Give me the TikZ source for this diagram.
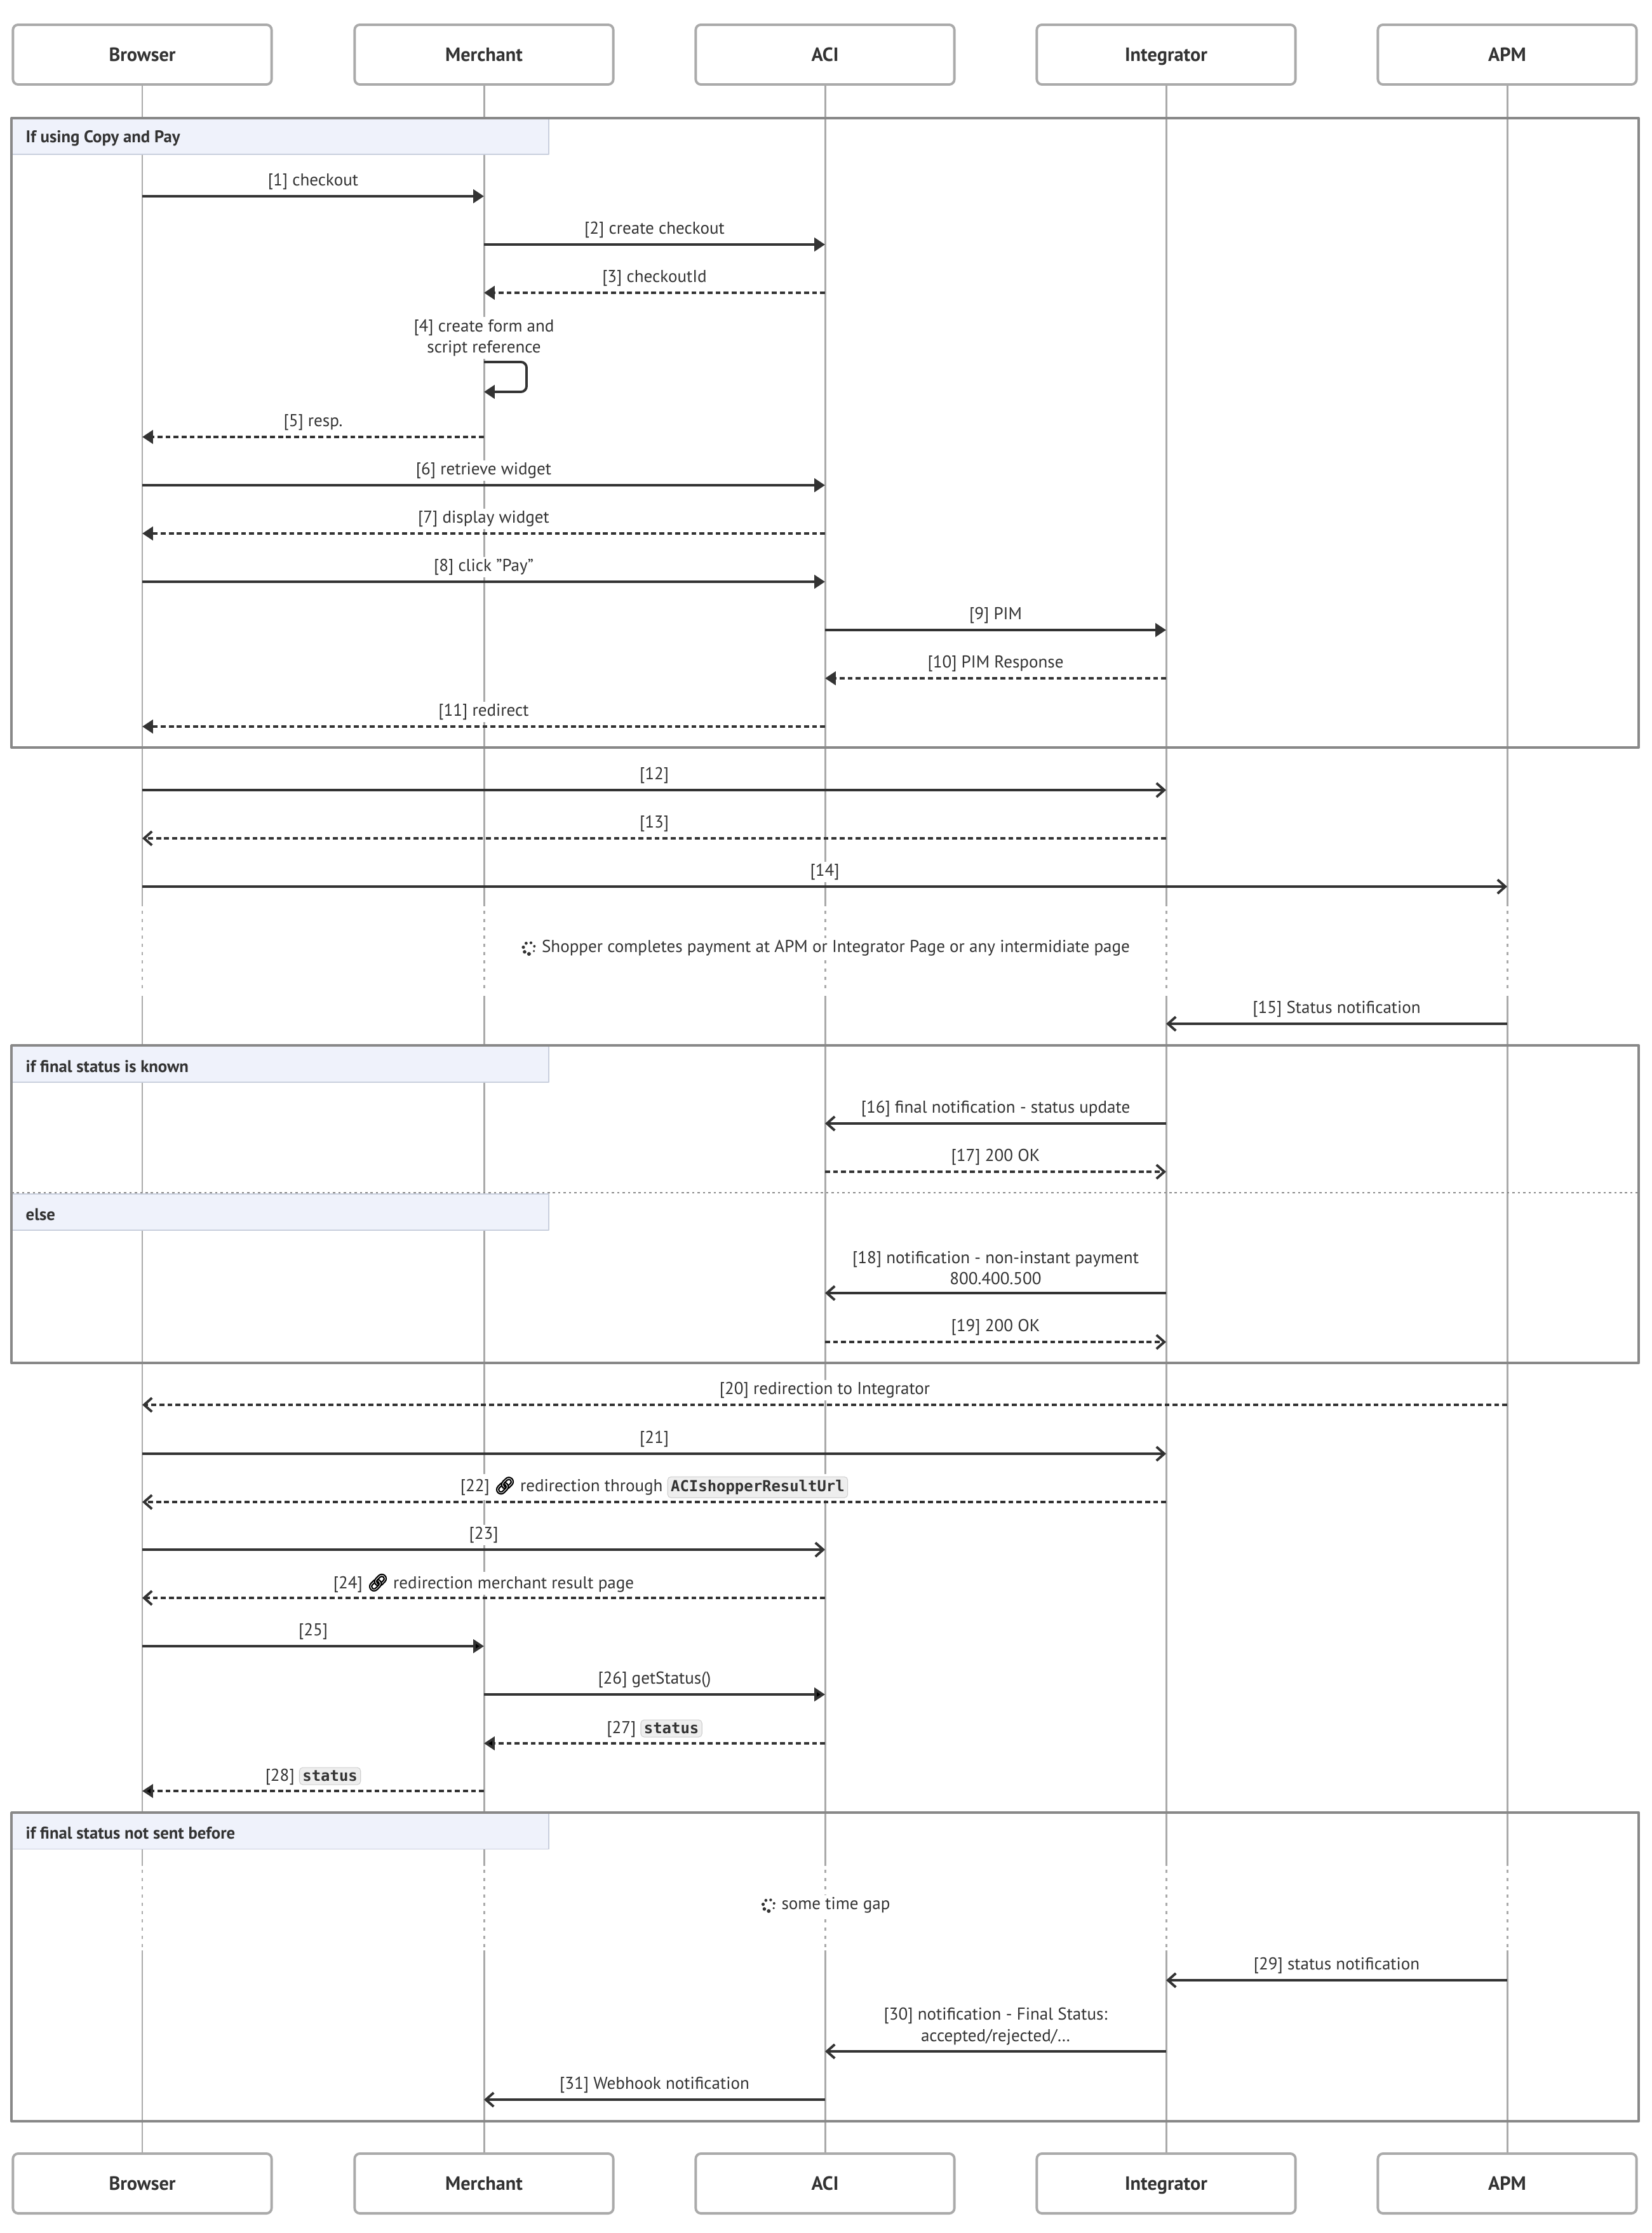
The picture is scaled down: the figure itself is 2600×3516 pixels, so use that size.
\documentclass[tikz,border=0pt]{standalone}
\usepackage{fontspec}
\setmainfont{PT Sans}
\setmonofont{DejaVu Sans Mono}
\newfontfamily\emojifont[FakeBold=4]{Noto Emoji}
\usetikzlibrary{arrows.meta, calc}

\definecolor{ink}{HTML}{333333}
\definecolor{lifegray}{HTML}{AAAAAA}
\definecolor{framegray}{HTML}{888888}
\definecolor{tagfill}{HTML}{EFF2FB}
\definecolor{tagline}{HTML}{C9CFDD}
\definecolor{codefill}{HTML}{EEEEEE}
\definecolor{codeline}{HTML}{D0D0D0}

\newcommand{\codebox}[1]{\tikz[baseline=(cb.base)] \node [fill=codefill, draw=codeline, line width=0.3pt, rounded corners=1.5pt, inner sep=1.4pt, yshift=0pt] (cb) {\ttfamily\bfseries\fontsize{6.8}{8}\selectfont #1};}
\newcommand{\linkicon}{{\color{black}\emojifont\fontsize{7.6}{8}\selectfont 🔗}}

\begin{document}
\begin{tikzpicture}[x=0.01cm, y=-0.01cm, line join=round, text=ink,
    font=\fontsize{7.7}{9.6}\selectfont,
    actor/.style={draw=lifegray, line width=1.1pt, fill=white, rounded corners=2.3pt,
        minimum width=4.07cm, minimum height=0.94cm, text height=6.8pt, text depth=1pt,
        font=\fontsize{8.6}{10}\selectfont\bfseries},
    life/.style={lifegray, line width=0.85pt},
    lifegap/.style={life, dash pattern=on 1.5pt off 2.2pt},
    frame/.style={draw=framegray, line width=1.1pt},
    tag/.style={fill=tagfill, draw=tagline, line width=0.3pt},
    tagtext/.style={anchor=west, inner sep=0pt, font=\fontsize{7.6}{9}\selectfont\bfseries},
    sync/.style={draw=ink, line width=1.1pt, -{Triangle[length=4.8pt, width=6pt]}},
    syncback/.style={sync, dash pattern=on 2.2pt off 1.4pt},
    async/.style={draw=ink, line width=1.1pt, -{Straight Barb[length=3.5pt, width=6.2pt]}},
    asyncback/.style={async, dash pattern=on 2.2pt off 1.4pt},
    lbl/.style={fill=white, inner sep=1pt, yshift=6.6pt, align=center},
    lbltwo/.style={lbl, yshift=4.6pt},
    note/.style={fill=white, inner sep=1pt}]
    \useasboundingbox (0,0) rectangle (2600,3516);
    \foreach \a/\t/\x in {browser/Browser/224, merchant/Merchant/762, aci/ACI/1299, integrator/Integrator/1836, apm/APM/2373} {
        \node [actor] (\a) at (\x,86) {\t};
        \node [actor] (\a-end) at (\x,3438) {\t};
        \draw [life] (\a.south) -- (\a |- 0,1427);
        \draw [lifegap] (\a |- 0,1434) -- (\a |- 0,1562);
        \draw [life] (\a |- 0,1568) -- (\a |- 0,2938);
        \draw [lifegap] (\a |- 0,2944) -- (\a |- 0,3066);
        \draw [life] (\a |- 0,3071) -- (\a-end.north);
    }
    \draw [tag] (18,186) rectangle (864,243);
    \node [tagtext] at (40,218) {If using Copy and Pay};
    \draw [frame] (18,186) rectangle (2580,1177);
    \draw [tag] (18,1646) rectangle (864,1704);
    \node [tagtext] at (40,1679) {if final status is known};
    \draw [tag] (18,1880) rectangle (864,1937);
    \node [tagtext] at (40,1912) {else};
    \draw [framegray, line width=0.8pt, dash pattern=on 1pt off 1.4pt] (18,1878) -- (2580,1878);
    \draw [frame] (18,1646) rectangle (2580,2146);
    \draw [tag] (18,2854) rectangle (864,2911);
    \node [tagtext] at (40,2886) {if final status not sent before};
    \draw [frame] (18,2854) rectangle (2580,3340);

    \draw [sync] (browser |- 0,309) -- node [lbl] {[1] checkout} (merchant |- 0,309);
    \draw [sync] (merchant |- 0,385) -- node [lbl] {[2] create checkout} (aci |- 0,385);
    \draw [syncback] (aci |- 0,461) -- node [lbl] {[3] checkoutId} (merchant |- 0,461);
    \node [fill=white, inner sep=1pt, align=center] (selfnote) at (762,532) {[4] create form and\\script reference};
    \draw [sync, rounded corners=2.5pt] (merchant |- 0,570) -- ++(67,0) -- ++(0,47) -- (merchant |- 0,617);
    \draw [syncback] (merchant |- 0,688) -- node [lbl] {[5] resp.} (browser |- 0,688);
    \draw [sync] (browser |- 0,764) -- node [lbl] {[6] retrieve widget} (aci |- 0,764);
    \draw [syncback] (aci |- 0,840) -- node [lbl] {[7] display widget} (browser |- 0,840);
    \draw [sync] (browser |- 0,916) -- node [lbl] {[8] click "Pay"} (aci |- 0,916);
    \draw [sync] (aci |- 0,992) -- node [lbl] {[9] PIM} (integrator |- 0,992);
    \draw [syncback] (integrator |- 0,1068) -- node [lbl] {[10] PIM Response} (aci |- 0,1068);
    \draw [syncback] (aci |- 0,1144) -- node [lbl] {[11] redirect} (browser |- 0,1144);
    \draw [async] (browser |- 0,1244) -- node [lbl] {[12]} (integrator |- 0,1244);
    \draw [asyncback] (integrator |- 0,1320) -- node [lbl] {[13]} (browser |- 0,1320);
    \draw [async] (browser |- 0,1396) -- node [lbl] {[14]} (apm |- 0,1396);

    \node [note] (wait1) at (1316,1493) {Shopper completes payment at APM or Integrator Page or any intermidiate page};
    \foreach \ang/\r in {90/3,140/2.8,190/2.6,240/2.4,290/2.2,340/2,30/1.8}
        \fill [ink] ($(wait1.west)+(-16,0)+(\ang:9)$) circle (\r);

    \draw [async] (apm |- 0,1612) -- node [lbl] {[15] Status notification} (integrator |- 0,1612);
    \draw [async] (integrator |- 0,1769) -- node [lbl] {[16] final notification - status update} (aci |- 0,1769);
    \draw [asyncback] (aci |- 0,1845) -- node [lbl] {[17] 200 OK} (integrator |- 0,1845);
    \draw [async] (integrator |- 0,2036) -- node [lbltwo] {[18] notification - non-instant payment\\800.400.500} (aci |- 0,2036);
    \draw [asyncback] (aci |- 0,2113) -- node [lbl] {[19] 200 OK} (integrator |- 0,2113);
    \draw [asyncback] (apm |- 0,2212) -- node [lbl] {[20] redirection to Integrator} (browser |- 0,2212);
    \draw [async] (browser |- 0,2289) -- node [lbl] {[21]} (integrator |- 0,2289);
    \draw [asyncback] (integrator |- 0,2365) -- node [lbl] {[22] \linkicon{} redirection through \codebox{ACIshopperResultUrl}} (browser |- 0,2365);
    \draw [async] (browser |- 0,2440) -- node [lbl] {[23]} (aci |- 0,2440);
    \draw [asyncback] (aci |- 0,2516) -- node [lbl] {[24] \linkicon{} redirection merchant result page} (browser |- 0,2516);
    \draw [sync] (browser |- 0,2592) -- node [lbl] {[25]} (merchant |- 0,2592);
    \draw [sync] (merchant |- 0,2668) -- node [lbl] {[26] getStatus()} (aci |- 0,2668);
    \draw [syncback] (aci |- 0,2745) -- node [lbl] {[27] \codebox{status}} (merchant |- 0,2745);
    \draw [syncback] (merchant |- 0,2820) -- node [lbl] {[28] \codebox{status}} (browser |- 0,2820);

    \node [note] (wait2) at (1316,3000) {some time gap};
    \foreach \ang/\r in {90/3,140/2.8,190/2.6,240/2.4,290/2.2,340/2,30/1.8}
        \fill [ink] ($(wait2.west)+(-16,0)+(\ang:9)$) circle (\r);

    \draw [async] (apm |- 0,3118) -- node [lbl] {[29] status notification} (integrator |- 0,3118);
    \draw [async] (integrator |- 0,3230) -- node [lbltwo] {[30] notification - Final Status:\\accepted/rejected/…} (aci |- 0,3230);
    \draw [async] (aci |- 0,3306) -- node [lbl] {[31] Webhook notification} (merchant |- 0,3306);
\end{tikzpicture}
\end{document}
